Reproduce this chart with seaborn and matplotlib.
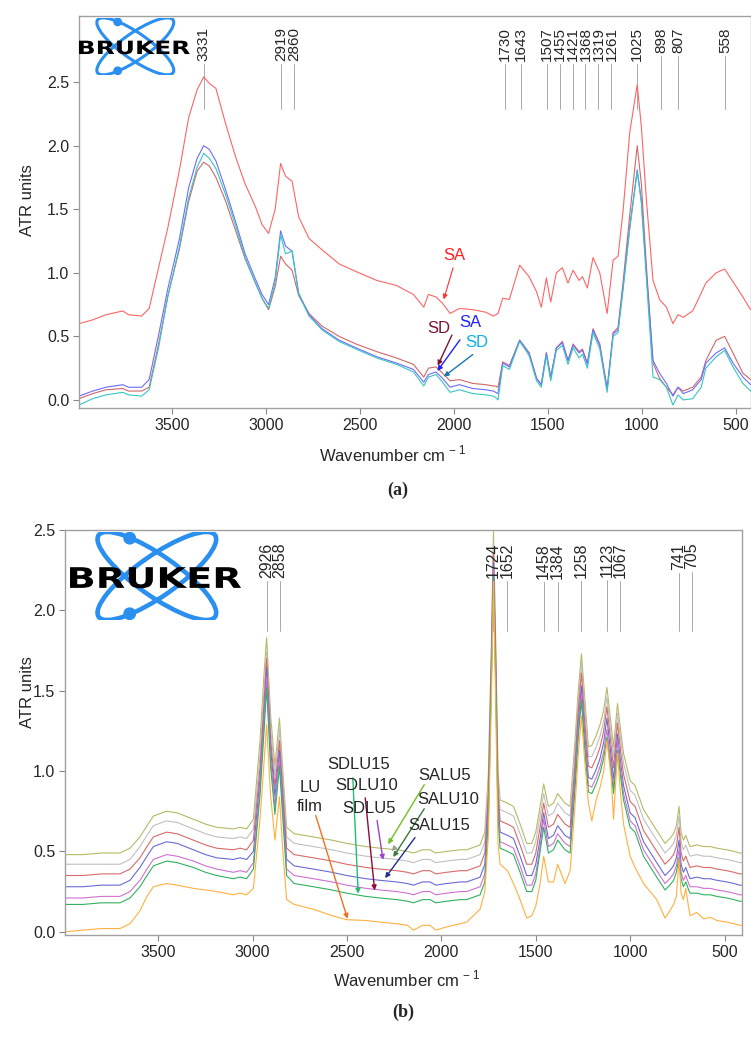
import numpy as np
import seaborn as sns
from matplotlib import pyplot as plt
from matplotlib.patches import Ellipse, PathPatch
from matplotlib.textpath import TextPath
from matplotlib.font_manager import FontProperties
from matplotlib.transforms import Affine2D

sns.set_style('ticks')
plt.rcParams['font.family'] = ['Liberation Sans', 'DejaVu Sans']
plt.rcParams['mathtext.fontset'] = 'custom'
plt.rcParams['mathtext.rm'] = 'Liberation Sans'

# ---- panel (a) ----
wn_a = [3993, 3920, 3850, 3760, 3730, 3660, 3620, 3570, 3520, 3460,
        3410, 3365, 3330, 3300, 3265, 3215, 3160, 3110, 3055, 3020,
        2985, 2950, 2921, 2895, 2860, 2825, 2770, 2700, 2610, 2520,
        2410, 2305, 2215, 2160, 2135, 2095, 2060, 2020, 1970, 1900,
        1830, 1790, 1778, 1765, 1740, 1705, 1650, 1600, 1560, 1535,
        1508, 1485, 1455, 1423, 1393, 1366, 1334, 1316, 1290, 1260,
        1224, 1185, 1153, 1127, 1100, 1065, 1025, 1003, 976, 941,
        906, 870, 835, 808, 780, 730, 685, 660, 605, 560,
        516, 463, 422]
# upper SA trace has a small break near 1778 cm-1
sa_upper = [0.60, 0.63, 0.67, 0.70, 0.67, 0.66, 0.72, 1.04, 1.36, 1.80,
            2.22, 2.44, 2.54, 2.49, 2.45, 2.18, 1.91, 1.70, 1.52, 1.38,
            1.31, 1.50, 1.86, 1.76, 1.72, 1.44, 1.27, 1.18, 1.07, 1.01,
            0.94, 0.90, 0.83, 0.73, 0.83, 0.81, 0.76, 0.68, 0.72, 0.71,
            0.69, 0.66, np.nan, 0.68, 0.80, 0.79, 1.06, 0.97, 0.85, 0.73,
            0.96, 0.77, 1.00, 1.04, 0.92, 1.02, 0.94, 0.97, 0.88, 1.12,
            1.00, 0.68, 1.10, 1.13, 1.49, 2.10, 2.48, 2.15, 1.57, 0.94,
            0.79, 0.73, 0.60, 0.67, 0.65, 0.70, 0.84, 0.92, 1.00, 1.03,
            0.93, 0.81, 0.71]
sd_red = [0.01, 0.05, 0.08, 0.09, 0.07, 0.07, 0.10, 0.44, 0.82, 1.18,
          1.56, 1.80, 1.87, 1.84, 1.75, 1.57, 1.33, 1.11, 0.92, 0.80,
          0.71, 0.89, 1.13, 1.07, 1.02, 0.82, 0.68, 0.58, 0.50, 0.44,
          0.38, 0.33, 0.28, 0.18, 0.25, 0.26, 0.21, 0.15, 0.16, 0.13,
          0.12, 0.11, 0.11, 0.10, 0.30, 0.27, 0.47, 0.37, 0.17, 0.12,
          0.37, 0.17, 0.41, 0.46, 0.31, 0.44, 0.38, 0.40, 0.29, 0.56,
          0.44, 0.08, 0.53, 0.57, 0.93, 1.45, 2.00, 1.70, 1.05, 0.29,
          0.17, 0.10, 0.04, 0.10, 0.07, 0.10, 0.18, 0.31, 0.47, 0.50,
          0.37, 0.21, 0.16]
sa_blue = [0.03, 0.07, 0.10, 0.12, 0.10, 0.10, 0.16, 0.51, 0.88, 1.26,
           1.67, 1.90, 2.00, 1.97, 1.88, 1.66, 1.40, 1.15, 0.95, 0.83,
           0.75, 0.96, 1.33, 1.21, 1.17, 0.84, 0.67, 0.56, 0.47, 0.41,
           0.34, 0.29, 0.24, 0.14, 0.20, 0.22, 0.17, 0.10, 0.12, 0.09,
           0.08, 0.07, 0.06, 0.05, 0.29, 0.26, 0.47, 0.37, 0.17, 0.12,
           0.37, 0.18, 0.41, 0.45, 0.31, 0.43, 0.37, 0.39, 0.28, 0.55,
           0.43, 0.09, 0.52, 0.55, 0.89, 1.36, 1.81, 1.57, 1.00, 0.31,
           0.21, 0.13, 0.03, 0.10, 0.05, 0.08, 0.16, 0.29, 0.37, 0.41,
           0.29, 0.18, 0.12]
sd_cyan = [-0.04, 0.01, 0.04, 0.06, 0.04, 0.03, 0.08, 0.41, 0.82, 1.20,
           1.59, 1.83, 1.94, 1.90, 1.82, 1.62, 1.37, 1.12, 0.92, 0.80,
           0.72, 0.93, 1.30, 1.15, 1.17, 0.83, 0.66, 0.55, 0.46, 0.40,
           0.33, 0.28, 0.22, 0.11, 0.18, 0.20, 0.14, 0.06, 0.08, 0.05,
           0.04, 0.03, 0.02, 0.00, 0.27, 0.24, 0.46, 0.35, 0.15, 0.10,
           0.35, 0.15, 0.39, 0.43, 0.28, 0.41, 0.33, 0.36, 0.25, 0.53,
           0.40, 0.06, 0.50, 0.53, 0.87, 1.34, 1.80, 1.55, 0.95, 0.18,
           0.16, 0.10, -0.04, 0.04, 0.00, 0.01, 0.10, 0.25, 0.34, 0.39,
           0.26, 0.13, 0.07]
peaks_a = [3331, 2919, 2860, 1730, 1643, 1507, 1455, 1421, 1368, 1319,
           1261, 1025, 898, 807, 558]

# ---- panel (b) ----
wn_b = [3994, 3900, 3800, 3703, 3650, 3597, 3560, 3526, 3456, 3400,
        3314, 3250, 3191, 3102, 3067, 3032, 2996, 2961, 2940, 2926,
        2905, 2882, 2858, 2840, 2820, 2780, 2678, 2580, 2502, 2400,
        2325, 2237, 2180, 2148, 2100, 2060, 2030, 1972, 1900, 1866,
        1795, 1770, 1751, 1735, 1724, 1712, 1700, 1689, 1650, 1618,
        1583, 1548, 1521, 1500, 1477, 1458, 1433, 1406, 1384, 1345,
        1318, 1292, 1275, 1258, 1240, 1221, 1203, 1180, 1159, 1140,
        1123, 1100, 1088, 1067, 1050, 1035, 1000, 974, 929, 859,
        815, 790, 770, 755, 741, 730, 718, 705, 690, 682,
        647, 610, 576, 540, 488, 450, 420, 407]
salu5 = [0.48, 0.48, 0.49, 0.49, 0.52, 0.59, 0.66, 0.72, 0.75, 0.74,
         0.70, 0.67, 0.65, 0.64, 0.65, 0.64, 0.70, 1.19, 1.60, 1.83,
         1.35, 1.03, 1.33, 1.00, 0.65, 0.61, 0.59, 0.57, 0.55, 0.53,
         0.52, 0.51, 0.50, 0.49, 0.51, 0.51, 0.49, 0.50, 0.51, 0.51,
         0.54, 0.62, 0.99, 1.80, 2.49, 1.80, 1.00, 0.82, 0.80, 0.78,
         0.67, 0.55, 0.55, 0.62, 0.78, 0.92, 0.78, 0.80, 0.86, 0.80,
         0.78, 1.19, 1.50, 1.73, 1.45, 1.15, 1.16, 1.22, 1.29, 1.38,
         1.52, 1.28, 1.15, 1.42, 1.25, 1.11, 0.94, 0.91, 0.76, 0.63,
         0.55, 0.58, 0.61, 0.66, 0.78, 0.62, 0.57, 0.60, 0.55, 0.53,
         0.54, 0.53, 0.53, 0.52, 0.51, 0.50, 0.49, 0.49]
salu10 = [0.42, 0.42, 0.42, 0.42, 0.45, 0.53, 0.60, 0.66, 0.69, 0.68,
          0.64, 0.61, 0.59, 0.58, 0.59, 0.58, 0.64, 1.10, 1.50, 1.74,
          1.28, 0.97, 1.26, 0.94, 0.59, 0.55, 0.53, 0.51, 0.49, 0.47,
          0.46, 0.45, 0.44, 0.43, 0.45, 0.45, 0.43, 0.44, 0.45, 0.45,
          0.48, 0.56, 0.93, 1.75, 2.42, 1.74, 0.94, 0.76, 0.74, 0.72,
          0.61, 0.49, 0.49, 0.56, 0.72, 0.86, 0.72, 0.74, 0.80, 0.74,
          0.72, 1.12, 1.43, 1.67, 1.38, 1.09, 1.09, 1.15, 1.22, 1.31,
          1.46, 1.22, 1.09, 1.36, 1.19, 1.05, 0.88, 0.85, 0.70, 0.57,
          0.49, 0.52, 0.55, 0.60, 0.72, 0.56, 0.51, 0.54, 0.49, 0.47,
          0.48, 0.47, 0.47, 0.46, 0.45, 0.44, 0.43, 0.43]
sdlu5 = [0.35, 0.35, 0.36, 0.36, 0.39, 0.46, 0.53, 0.59, 0.62, 0.61,
         0.57, 0.54, 0.52, 0.51, 0.52, 0.51, 0.57, 1.02, 1.42, 1.70,
         1.20, 0.90, 1.19, 0.87, 0.52, 0.48, 0.46, 0.44, 0.42, 0.40,
         0.39, 0.38, 0.37, 0.36, 0.38, 0.38, 0.36, 0.37, 0.38, 0.38,
         0.41, 0.49, 0.86, 1.70, 2.35, 1.68, 0.87, 0.69, 0.67, 0.65,
         0.54, 0.42, 0.42, 0.49, 0.65, 0.80, 0.65, 0.67, 0.73, 0.67,
         0.65, 1.05, 1.37, 1.61, 1.30, 1.03, 1.02, 1.08, 1.15, 1.25,
         1.40, 1.15, 1.02, 1.30, 1.12, 0.98, 0.81, 0.78, 0.63, 0.50,
         0.42, 0.45, 0.48, 0.53, 0.65, 0.49, 0.44, 0.47, 0.42, 0.40,
         0.41, 0.40, 0.40, 0.39, 0.38, 0.37, 0.36, 0.36]
salu15 = [0.28, 0.28, 0.29, 0.29, 0.32, 0.40, 0.47, 0.53, 0.56, 0.55,
          0.51, 0.48, 0.46, 0.45, 0.46, 0.45, 0.50, 0.95, 1.35, 1.64,
          1.14, 0.84, 1.13, 0.81, 0.45, 0.41, 0.39, 0.37, 0.35, 0.33,
          0.32, 0.31, 0.30, 0.29, 0.31, 0.31, 0.29, 0.30, 0.31, 0.31,
          0.34, 0.42, 0.79, 1.65, 2.30, 1.62, 0.80, 0.62, 0.60, 0.58,
          0.47, 0.35, 0.35, 0.42, 0.58, 0.74, 0.58, 0.60, 0.66, 0.60,
          0.58, 0.98, 1.30, 1.53, 1.22, 0.96, 0.95, 1.01, 1.08, 1.18,
          1.33, 1.08, 0.95, 1.23, 1.05, 0.91, 0.74, 0.71, 0.56, 0.43,
          0.35, 0.38, 0.41, 0.46, 0.57, 0.42, 0.37, 0.40, 0.35, 0.33,
          0.34, 0.33, 0.33, 0.32, 0.31, 0.30, 0.29, 0.29]
sdlu10 = [0.21, 0.21, 0.22, 0.22, 0.25, 0.32, 0.39, 0.45, 0.48, 0.47,
          0.44, 0.41, 0.39, 0.37, 0.38, 0.37, 0.43, 0.90, 1.30, 1.59,
          1.08, 0.78, 1.08, 0.75, 0.39, 0.35, 0.33, 0.31, 0.29, 0.27,
          0.26, 0.25, 0.24, 0.23, 0.25, 0.25, 0.23, 0.24, 0.25, 0.25,
          0.28, 0.36, 0.74, 1.60, 2.25, 1.56, 0.74, 0.56, 0.54, 0.52,
          0.41, 0.29, 0.29, 0.36, 0.53, 0.70, 0.53, 0.55, 0.61, 0.55,
          0.53, 0.93, 1.25, 1.48, 1.17, 0.91, 0.90, 0.96, 1.03, 1.12,
          1.26, 1.03, 0.90, 1.19, 1.00, 0.86, 0.69, 0.66, 0.51, 0.38,
          0.30, 0.33, 0.36, 0.41, 0.51, 0.37, 0.32, 0.35, 0.30, 0.28,
          0.28, 0.27, 0.27, 0.26, 0.25, 0.24, 0.23, 0.23]
sdlu15 = [0.17, 0.17, 0.18, 0.18, 0.21, 0.28, 0.35, 0.41, 0.44, 0.43,
          0.40, 0.37, 0.35, 0.33, 0.34, 0.33, 0.39, 0.85, 1.24, 1.52,
          1.03, 0.73, 1.03, 0.70, 0.35, 0.30, 0.28, 0.26, 0.24, 0.22,
          0.21, 0.20, 0.19, 0.18, 0.20, 0.20, 0.18, 0.19, 0.20, 0.20,
          0.23, 0.31, 0.70, 1.57, 2.22, 1.52, 0.70, 0.52, 0.50, 0.48,
          0.37, 0.25, 0.25, 0.32, 0.50, 0.65, 0.49, 0.51, 0.57, 0.51,
          0.49, 0.89, 1.21, 1.44, 1.13, 0.87, 0.86, 0.92, 0.99, 1.08,
          1.21, 0.99, 0.86, 1.13, 0.96, 0.82, 0.65, 0.62, 0.47, 0.34,
          0.26, 0.29, 0.32, 0.37, 0.46, 0.33, 0.28, 0.31, 0.26, 0.24,
          0.24, 0.23, 0.23, 0.22, 0.21, 0.20, 0.19, 0.19]
lu_film = [0.00, 0.01, 0.02, 0.02, 0.05, 0.13, 0.22, 0.28, 0.30, 0.29,
           0.27, 0.26, 0.25, 0.23, 0.24, 0.23, 0.27, 0.70, 1.05, 1.29,
           0.85, 0.57, 0.84, 0.50, 0.20, 0.17, 0.14, 0.10, 0.075, 0.07,
           0.06, 0.05, 0.04, 0.01, 0.04, 0.04, 0.01, 0.03, 0.05, 0.06,
           0.14, 0.25, 0.60, 1.45, 2.18, 1.40, 0.55, 0.42, 0.38, 0.30,
           0.20, 0.085, 0.10, 0.16, 0.30, 0.47, 0.31, 0.31, 0.42, 0.30,
           0.38, 0.78, 1.10, 1.34, 1.05, 0.80, 0.69, 0.82, 0.90, 1.00,
           1.19, 0.95, 0.70, 1.11, 0.85, 0.67, 0.47, 0.40, 0.30, 0.20,
           0.085, 0.13, 0.17, 0.22, 0.45, 0.24, 0.20, 0.27, 0.15, 0.10,
           0.12, 0.08, 0.09, 0.07, 0.06, 0.05, 0.04, 0.04]
peaks_b = [2926, 2858, 1724, 1652, 1458, 1384, 1258, 1123, 1067, 741, 705]

fig = plt.figure(figsize=(7.51, 10.37), dpi=100)
ax_a = fig.add_axes([0.1052, 0.6066, 0.8948, 0.378])
ax_b = fig.add_axes([0.0866, 0.0984, 0.9015, 0.3905])

for y, c in [(sa_upper, '#ff6464'), (sd_red, '#d06868'),
             (sa_blue, '#6c6cff'), (sd_cyan, '#38c4c4')]:
    sns.lineplot(x=wn_a, y=y, ax=ax_a, color=c, linewidth=0.8)

for y, c in [(salu5, '#b8b868'), (salu10, '#c0c0c0'), (sdlu5, '#d86a6a'),
             (salu15, '#6a6ad2'), (sdlu10, '#d070d0'), (sdlu15, '#30b060'),
             (lu_film, '#ffb040')]:
    sns.lineplot(x=wn_b, y=y, ax=ax_b, color=c, linewidth=0.8)

ax_a.set_xlim(3993, 420)
ax_a.set_ylim(-0.063, 3.02)
ax_b.set_xlim(3994, 407)
ax_b.set_ylim(-0.02, 2.5)

for ax in (ax_a, ax_b):
    ax.set_xticks([3500, 3000, 2500, 2000, 1500, 1000, 500])
    ax.set_yticks([0, 0.5, 1.0, 1.5, 2.0, 2.5])
    ax.set_yticklabels(['0.0', '0.5', '1.0', '1.5', '2.0', '2.5'])
    ax.tick_params(labelsize=11.5, length=4, color='#888888', pad=3)
    for s in ax.spines.values():
        s.set_color('#a0a0a0')
        s.set_linewidth(1)
    ax.set_xlabel('Wavenumber cm$^{\\,-1}$', fontsize=12)
    ax.set_ylabel('ATR units', fontsize=12)

ax_a.xaxis.set_label_coords(0.466, -0.092)
ax_a.yaxis.set_label_coords(-0.065, 0.53)
ax_b.xaxis.set_label_coords(0.505, -0.084)
ax_b.yaxis.set_label_coords(-0.045, 0.6)


def spread(peaks, gap):
    pos = []
    for p in peaks:
        if pos and pos[-1] - p < gap:
            p = pos[-1] - gap
        pos.append(p)
    return pos


def label_peaks(ax, peaks, top, bottom, size):
    placed = []
    for p, x in zip(peaks, spread(peaks, 69)):
        t = ax.text(x, top, str(p), rotation=90, ha='center', va='top',
                    fontsize=size)
        placed.append((t, x))
    fig.canvas.draw()
    inv = ax.transData.inverted()
    for t, x in placed:
        bb = t.get_window_extent()
        y0 = inv.transform((bb.x0, bb.y0 - 3))[1]
        ax.plot([x, x], [y0, bottom], color='#9a9a9a', lw=0.6, zorder=1)


label_peaks(ax_a, peaks_a, 2.93, 2.29, 11)
label_peaks(ax_b, peaks_b, 2.42, 1.87, 11.5)


def draw_logo(ax, rect, lw):
    lg = ax.inset_axes(rect)
    lg.set_xlim(0, 1.95)
    lg.set_ylim(0, 1)
    lg.axis('off')
    for ang in (35, -35):
        lg.add_patch(Ellipse((0.99, 0.5), 1.62, 0.46, angle=ang, fill=False,
                             ec='#2b8ff0', lw=lw))
    for y in (0.93, 0.07):
        lg.add_patch(Ellipse((0.68, y), 0.13, 0.13, color='#2b8ff0'))
    tp = TextPath((0, 0), 'BRUKER',
                  prop=FontProperties(family='DejaVu Sans', weight='heavy'))
    ext = tp.get_extents()
    tr = (Affine2D().translate(-ext.x0, -ext.y0)
          .scale(1.95 / ext.width, 0.24 / ext.height).translate(0, 0.36))
    lg.add_patch(PathPatch(tr.transform_path(tp), fc='black', ec='none',
                           zorder=3))


draw_logo(ax_a, [0.0, 0.85, 0.165, 0.145], 2.2)
draw_logo(ax_b, [0.0074, 0.778, 0.2526, 0.217], 3.3)

# arrows and names, panel (a)
arr = dict(arrowstyle='-|>', lw=1.0, mutation_scale=7)
ax_a.text(1995, 1.14, 'SA', color='#ff2020', fontsize=12, ha='center', va='center')
ax_a.annotate('', xy=(2058, 0.77), xytext=(2000, 1.06),
              arrowprops=dict(arr, color='#ff3030', lw=0.8))
ax_a.text(2080, 0.56, 'SD', color='#7a1535', fontsize=12, ha='center', va='center')
ax_a.annotate('', xy=(2092, 0.25), xytext=(2004, 0.53),
              arrowprops=dict(arr, color='#7a1535'))
ax_a.text(1911, 0.61, 'SA', color='#2020ff', fontsize=12, ha='center', va='center')
ax_a.annotate('', xy=(2096, 0.21), xytext=(1959, 0.49),
              arrowprops=dict(arr, color='#2020ff'))
ax_a.text(1878, 0.45, 'SD', color='#10b0e8', fontsize=12, ha='center', va='center')
ax_a.annotate('', xy=(2065, 0.17), xytext=(1888, 0.37),
              arrowprops=dict(arr, color='#1a78b0'))

# arrows and names, panel (b)
ax_b.text(2696, 0.84, 'LU\nfilm', fontsize=12, ha='center', va='center',
          linespacing=1.3)
ax_b.annotate('', xy=(2493, 0.064), xytext=(2670, 0.74),
              arrowprops=dict(arr, color='#f07020'))
ax_b.text(2440, 1.04, 'SDLU15', fontsize=12, ha='center', va='center')
ax_b.annotate('', xy=(2440, 0.22), xytext=(2470, 0.975),
              arrowprops=dict(arr, color='#20c070'))
ax_b.text(2396, 0.91, 'SDLU10', fontsize=12, ha='center', va='center')
ax_b.annotate('', xy=(2352, 0.24), xytext=(2405, 0.85),
              arrowprops=dict(arr, color='#8a0a3a'))
ax_b.text(2382, 0.77, 'SDLU5', fontsize=12, ha='center', va='center')
ax_b.annotate('', xy=(2307, 0.43), xytext=(2343, 0.71),
              arrowprops=dict(arr, color='#a040d0'))
ax_b.text(1981, 0.97, 'SALU5', fontsize=12, ha='center', va='center')
ax_b.annotate('', xy=(2290, 0.53), xytext=(2083, 0.93),
              arrowprops=dict(arr, color='#70c020'))
ax_b.text(1963, 0.82, 'SALU10', fontsize=12, ha='center', va='center')
ax_b.annotate('', xy=(2263, 0.45), xytext=(2083, 0.78),
              arrowprops=dict(arr, color='#3a7a3a'))
ax_b.text(2011, 0.66, 'SALU15', fontsize=12, ha='center', va='center')
ax_b.annotate('', xy=(2307, 0.32), xytext=(2131, 0.60),
              arrowprops=dict(arr, color='#1f2f8f'))
ax_b.annotate('', xy=(2272, 0.49), xytext=(2250, 0.52),
              arrowprops=dict(arr, color='#9a9a9a', lw=0.8))

fig.text(398 / 751, 1 - 490 / 1037, '(a)', ha='center', va='center',
         fontsize=13, family='Liberation Serif', weight='bold')
fig.text(403 / 751, 1 - 1012 / 1037, '(b)', ha='center', va='center',
         fontsize=13, family='Liberation Serif', weight='bold')

fig.savefig('out.png', dpi=100)
